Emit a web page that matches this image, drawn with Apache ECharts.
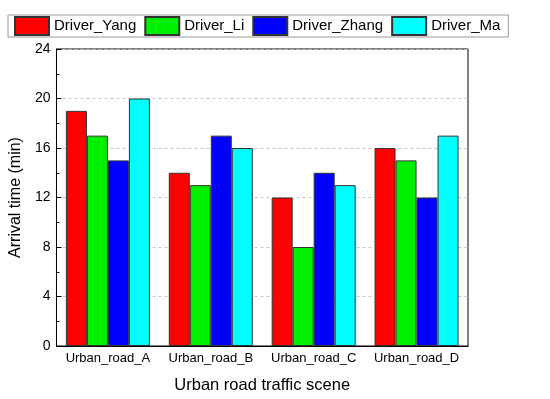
<!DOCTYPE html>
<html><head><meta charset="utf-8">
<script src="https://cdn.jsdelivr.net/npm/echarts@6/dist/echarts.min.js"></script>
<style>html,body{margin:0;padding:0;background:#fff}#c{width:550px;height:399px}</style>
</head><body><div id="c"></div>
<script>
const categories = ['Urban_road_A','Urban_road_B','Urban_road_C','Urban_road_D'];
const seriesNames = ['Driver_Yang','Driver_Li','Driver_Zhang','Driver_Ma'];
const yang = [19,14,12,16];
const li = [17,13,8,15];
const zhang = [15,17,14,12];
const ma = [20,16,13,17];
const colors = ['#ff0000','#00ee00','#0000ff','#00ffff'];
const values = [yang, li, zhang, ma];
const FONT = 'Liberation Sans, Arial, sans-serif';
const chart = echarts.init(document.getElementById('c'));
chart.setOption({
  animation:false,
  color: colors,
  legend:{
    left:8, top:15, padding:[1,8,1,6], itemGap:8, itemWidth:34, itemHeight:18,
    borderColor:'#999', borderWidth:1, icon:'rect',
    textStyle:{fontFamily:FONT, fontSize:15, color:'#000'},
    data: seriesNames
  },
  grid:{left:50,right:82,top:49,bottom:49,show:true,borderColor:'#000',borderWidth:1,backgroundColor:'transparent'},
  xAxis:{
    type:'category', data:categories,
    name:'Urban road traffic scene', nameLocation:'middle', nameGap:31,
    nameTextStyle:{fontFamily:FONT,fontSize:16.5,color:'#000'},
    axisLine:{lineStyle:{color:'#000'}},
    axisTick:{inside:true,length:4,lineStyle:{color:'#000'}},
    axisLabel:{fontFamily:FONT,fontSize:13,color:'#000',margin:6,interval:0}
  },
  yAxis:{
    type:'value', min:0, max:24, interval:4,
    name:'Arrival time (min)', nameLocation:'middle', nameGap:19, nameRotate:90,
    nameTextStyle:{fontFamily:FONT,fontSize:16,color:'#000'},
    axisLine:{show:true,lineStyle:{color:'#000'}},
    axisTick:{show:true,inside:true,length:5,lineStyle:{color:'#000'}},
    minorTick:{show:true,splitNumber:2,length:3,lineStyle:{color:'#000'}},
    splitLine:{show:true,lineStyle:{color:'#c8c8c8',type:[3,3]}},
    axisLabel:{fontFamily:FONT,fontSize:14,color:'#000',margin:6}
  },
  series: seriesNames.map((n,i)=>({
    name:n, type:'bar', data:values[i], barWidth:21, barGap:'0%',
    itemStyle:{color:colors[i],borderColor:'#333',borderWidth:1}
  }))
});
</script></body></html>
